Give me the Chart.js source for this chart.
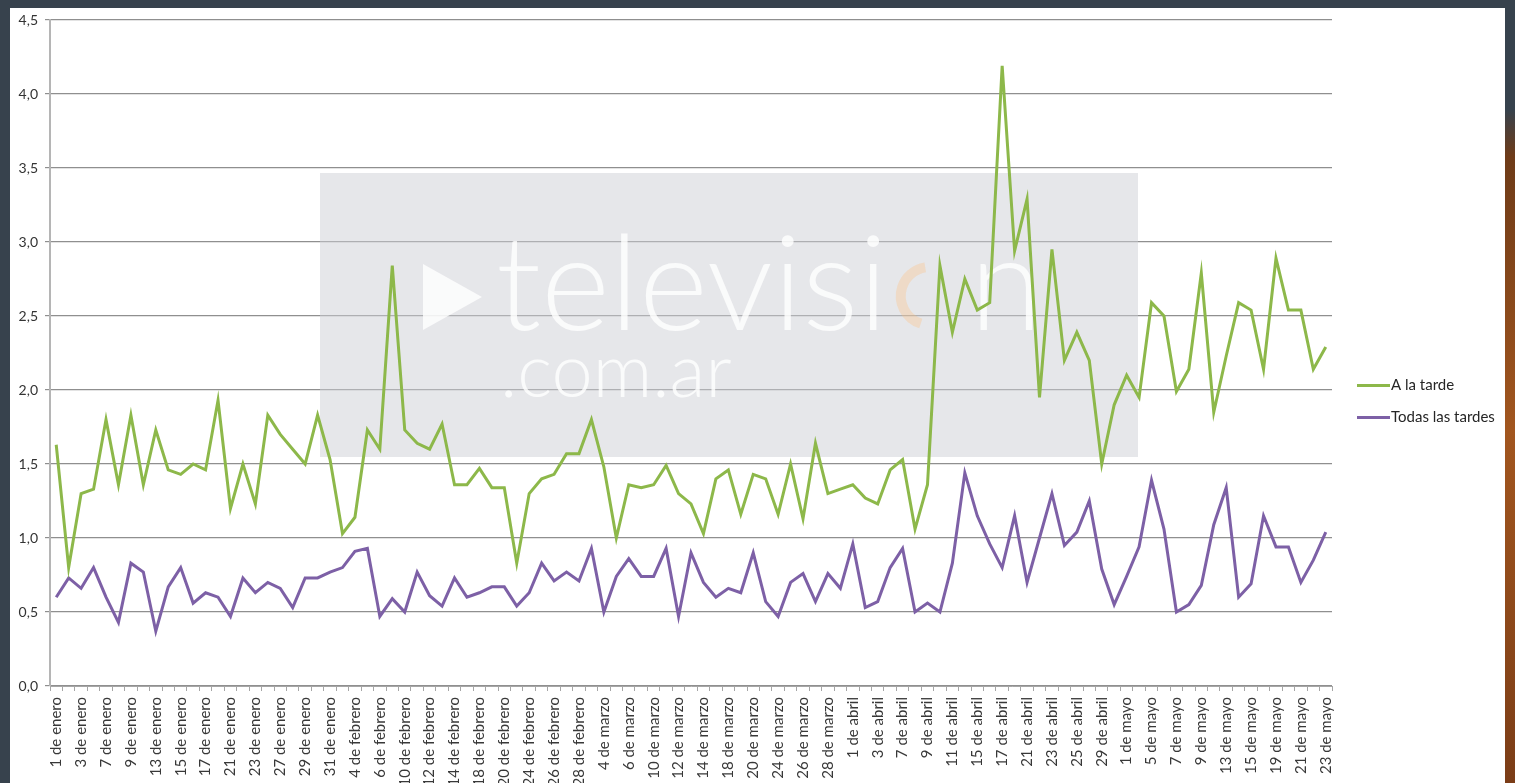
<!DOCTYPE html>
<html lang="es">
<head>
<meta charset="utf-8">
<title>A la tarde / Todas las tardes</title>
<script src="https://cdn.jsdelivr.net/npm/chart.js@4.4.1/dist/chart.umd.min.js"></script>
<style>
  html, body { margin: 0; padding: 0; background: #37424d; overflow: hidden; }
  #panel { position: absolute; left: 10px; top: 8px; width: 1495px; height: 775px; background: #fff; }
  #borde { position: absolute; left: 1505px; top: 0; width: 10px; height: 783px;
    background: linear-gradient(to bottom, #37424d 0, #37424d 14%, #6e3b18 20%, #a2561f 55%, #7b3d17 100%); }
</style>
</head>
<body>
<div id="panel"><canvas id="myChart"></canvas></div>
<div id="borde"></div>
<script>
// dias habiles 2014 por mes
const diasEnero = [1,2,3,6,7,8,9,10,13,14,15,16,17,20,21,22,23,24,27,28,29,30,31];
const diasFebrero = [3,4,5,6,7,10,11,12,13,14,17,18,19,20,21,24,25,26,27,28];
const diasMarzo = [3,4,5,6,7,10,11,12,13,14,17,18,19,20,21,24,25,26,27,28,31];
const diasAbril = [1,2,3,4,7,8,9,10,11,14,15,16,17,18,21,22,23,24,25,28,29,30];
const diasMayo = [1,2,5,6,7,8,9,12,13,14,15,16,19,20,21,22,23];

const aLaTarde = [
  1.63, 0.80, 1.30, 1.33, 1.80, 1.36, 1.83, 1.36, 1.73, 1.46, 1.43, 1.50, 1.46, 1.93, 1.20, 1.50, 1.23, 1.83, 1.70, 1.60, 1.50, 1.83, 1.53,
  1.03, 1.14, 1.73, 1.60, 2.84, 1.73, 1.64, 1.60, 1.77, 1.36, 1.36, 1.47, 1.34, 1.34, 0.83, 1.30, 1.40, 1.43, 1.57, 1.57,
  1.80, 1.48, 1.00, 1.36, 1.34, 1.36, 1.49, 1.30, 1.23, 1.03, 1.40, 1.46, 1.16, 1.43, 1.40, 1.16, 1.50, 1.13, 1.64, 1.30, 1.33,
  1.36, 1.27, 1.23, 1.46, 1.53, 1.06, 1.36, 2.84, 2.39, 2.75, 2.54, 2.59, 4.19, 2.94, 3.29, 1.95, 2.95, 2.20, 2.39, 2.20, 1.50, 1.90,
  2.10, 1.95, 2.59, 2.50, 1.99, 2.14, 2.79, 1.85, 2.23, 2.59, 2.54, 2.14, 2.89, 2.54, 2.54, 2.14, 2.29
];
const todasLasTardes = [
  0.60, 0.73, 0.66, 0.80, 0.60, 0.43, 0.83, 0.77, 0.37, 0.67, 0.80, 0.56, 0.63, 0.60, 0.47, 0.73, 0.63, 0.70, 0.66, 0.53, 0.73, 0.73, 0.77,
  0.80, 0.91, 0.93, 0.47, 0.59, 0.50, 0.77, 0.61, 0.54, 0.73, 0.60, 0.63, 0.67, 0.67, 0.54, 0.63, 0.83, 0.71, 0.77, 0.71,
  0.93, 0.50, 0.74, 0.86, 0.74, 0.74, 0.93, 0.47, 0.90, 0.70, 0.60, 0.66, 0.63, 0.90, 0.57, 0.47, 0.70, 0.76, 0.57, 0.76, 0.66,
  0.96, 0.53, 0.57, 0.80, 0.93, 0.50, 0.56, 0.50, 0.83, 1.44, 1.15, 0.96, 0.80, 1.15, 0.70, 1.00, 1.30, 0.95, 1.04, 1.25, 0.79, 0.55,
  0.74, 0.94, 1.39, 1.06, 0.50, 0.55, 0.68, 1.09, 1.34, 0.60, 0.69, 1.15, 0.94, 0.94, 0.70, 0.85, 1.04
];
const ticksY = [0, 0.5, 1, 1.5, 2, 2.5, 3, 3.5, 4, 4.5];

const etiquetas = [].concat(
  diasEnero.map(d => d + ' de enero'),
  diasFebrero.map(d => d + ' de febrero'),
  diasMarzo.map(d => d + ' de marzo'),
  diasAbril.map(d => d + ' de abril'),
  diasMayo.map(d => d + ' de mayo')
);

const VERDE = '#8db84a';
const VIOLETA = '#7d60a6';

// marca de agua (rectangulo gris con el logo)
const marcaAgua = {
  id: 'marcaAgua',
  beforeDatasetsDraw(chart) {
    const c = chart.ctx;
    c.save();
    c.fillStyle = 'rgba(205,208,213,0.5)';
    c.fillRect(310, 165, 818, 284);
    c.fillStyle = 'rgba(255,255,255,0.82)';
    c.beginPath();
    c.moveTo(413, 256); c.lineTo(413, 322); c.lineTo(472, 289); c.closePath();
    c.fill();
    c.font = '300 132px Lato';
    c.textBaseline = 'alphabetic';
    c.fillText('televisi', 486, 322);
    const w = c.measureText('televisi').width;
    c.strokeStyle = 'rgba(255,190,120,0.3)';
    c.lineWidth = 10;
    c.beginPath();
    c.arc(486 + w + 42, 288, 29, 0.6 * Math.PI, 1.45 * Math.PI);
    c.stroke();
    c.fillText('n', 486 + w + 82, 322);
    c.font = '300 74px Lato';
    c.fillText('.com.ar', 490, 389);
    c.restore();
  }
};

// leyenda a la derecha
const leyenda = {
  id: 'leyenda',
  afterDraw(chart) {
    const c = chart.ctx;
    const x = chart.chartArea.right + 25;
    const y0 = chart.height / 2 - 10;
    const series = chart.data.datasets;
    c.save();
    c.font = '15px Lato';
    c.textBaseline = 'middle';
    series.forEach((ds, i) => {
      const y = y0 + i * 32;
      c.strokeStyle = ds.borderColor;
      c.lineWidth = 3;
      c.beginPath();
      c.moveTo(x, y); c.lineTo(x + 33, y);
      c.stroke();
      c.fillStyle = '#262626';
      c.fillText(ds.label, x + 34, y);
    });
    c.restore();
  }
};

const ctx = document.getElementById('myChart').getContext('2d');
const myChart = new Chart(ctx, {
  type: 'line',
  data: {
    labels: etiquetas,
    datasets: [
      { label: 'A la tarde', data: aLaTarde, borderColor: VERDE, backgroundColor: VERDE, borderWidth: 3, pointRadius: 0, tension: 0 },
      { label: 'Todas las tardes', data: todasLasTardes, borderColor: VIOLETA, backgroundColor: VIOLETA, borderWidth: 3, pointRadius: 0, tension: 0 }
    ]
  },
  options: {
    responsive: true,
    maintainAspectRatio: false,
    animation: false,
    layout: { padding: { top: 12, right: 173, left: 0, bottom: 0 } },
    plugins: {
      legend: { display: false },
      tooltip: { enabled: false }
    },
    scales: {
      x: {
        offset: true,
        grid: { offset: true, drawOnChartArea: false, drawTicks: true, tickLength: 5, color: '#a6a6a6' },
        border: { color: '#a6a6a6', width: 1 },
        ticks: {
          autoSkip: false,
          minRotation: 90,
          maxRotation: 90,
          padding: 6,
          color: '#383838',
          font: { family: 'Lato', size: 15 },
          callback: function (v, i) { return i % 2 === 0 ? etiquetas[i] : ''; }
        },
        afterFit: function (s) { s.height = 97; }
      },
      y: {
        min: 0,
        max: 4.5,
        afterBuildTicks: function (s) { s.ticks = ticksY.map(v => ({ value: v })); },
        grid: { color: '#8f8f8f', lineWidth: 1.2, tickLength: 5 },
        border: { color: '#b5b5b5', width: 2 },
        ticks: {
          padding: 7,
          color: '#333',
          font: { family: 'Lato', size: 14 },
          callback: function (v) { return v.toFixed(1).replace('.', ','); }
        },
        afterFit: function (s) { s.width = 40; s.paddingTop = 0; s.paddingBottom = 0; }
      }
    }
  },
  plugins: [marcaAgua, leyenda]
});
</script>
</body>
</html>
